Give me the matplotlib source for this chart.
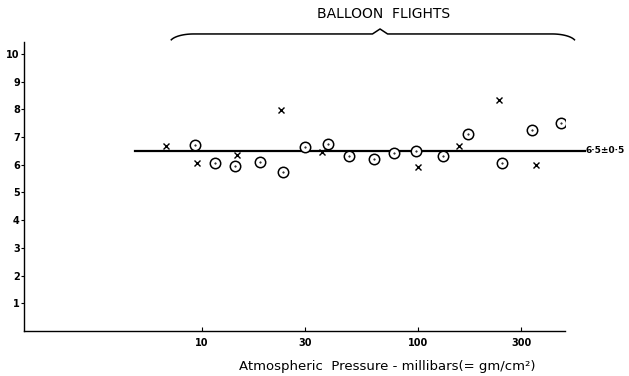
import numpy as np
import matplotlib
matplotlib.use("Agg")
import matplotlib.pyplot as plt

plt.rcParams.update({"font.family": "DejaVu Sans"})

# values (pressure in millibars, ratio on y)
circle_p = [9.3, 11.5, 14.2, 18.6, 23.7, 30.0, 38.4, 47.9, 62.8, 77.2, 98.0, 130, 170, 246, 336, 458]
circle_v = [6.70, 6.07, 5.95, 6.11, 5.75, 6.64, 6.74, 6.32, 6.19, 6.41, 6.49, 6.30, 7.10, 6.05, 7.25, 7.50]
cross_p = [6.85, 9.5, 14.6, 23.2, 35.8, 100, 155, 236, 351]
cross_v = [6.66, 6.08, 6.34, 7.97, 6.47, 5.93, 6.68, 8.32, 5.98]
mean_v = 6.5
mean_label = "6\u00b75\u00b10\u00b75"
mean_span = [4.9, 590]
brace_span = [7.1, 66.7, 538]
xticks = [10, 30, 100, 300]
yticks = list(range(1, 11))

fig = plt.figure(figsize=(6.29, 3.76), dpi=100)
ax = fig.add_axes([24/629, 45/376, 541/629, 289/376])
ax.set_xscale("log")
ax.set_xlim(1.5, 479)
ax.set_ylim(0, 10.43)

ax.plot(mean_span, [mean_v, mean_v], color="black", lw=1.6, clip_on=False, zorder=2)
ax.text(mean_span[1] * 1.01, mean_v, mean_label, fontsize=6.5, fontweight="bold",
        va="center", ha="left", clip_on=False)

ax.plot(circle_p, circle_v, "o", ms=7.5, mfc="white", mec="black", mew=1.1, zorder=3)
ax.plot(circle_p, circle_v, ".", ms=1, color="black", zorder=4)
ax.plot(cross_p, cross_v, "x", ms=3.8, mew=1.0, color="black", zorder=3)

# brace over the balloon flights, built in log10(pressure)
u_lo, u_mid, u_hi = np.log10(brace_span)
th = np.linspace(0.35, np.pi / 2, 20)
y_base, y_tip, y_peak = 10.72, 10.4, 10.9
u_left = u_lo + 0.11 * (1 - np.cos(th))
y_left = y_tip + (y_base - y_tip) * np.sin(th)
u_right = (u_hi - 0.11 * (1 - np.cos(th)))[::-1]
y_right = y_left[::-1]
ub = np.concatenate([u_left, [u_mid - 0.035, u_mid, u_mid + 0.035], u_right])
yb = np.concatenate([y_left, [y_base, y_peak, y_base], y_right])
ax.plot(10 ** ub, yb, color="black", lw=1.1, clip_on=False)
ax.text(10 ** (u_mid + 0.015), 11.45, "BALLOON  FLIGHTS", fontsize=10, ha="center",
        va="center", clip_on=False)

ax.set_xticks(xticks)
ax.set_xticklabels([str(v) for v in xticks], fontsize=7, fontweight="bold")
ax.minorticks_off()
ax.set_yticks(yticks)
ax.set_yticklabels([str(v) for v in yticks], fontsize=7, fontweight="bold")
ax.tick_params(axis="x", direction="in", length=3, width=0.8, pad=5)
ax.tick_params(axis="y", direction="out", length=2, width=0.8, pad=1)
for s in ["top", "right"]:
    ax.spines[s].set_visible(False)
for s in ["left", "bottom"]:
    ax.spines[s].set_linewidth(1.0)
ax.set_xlabel("Atmospheric  Pressure - millibars(= gm/cm\u00b2)", fontsize=9.5)
ax.xaxis.set_label_coords(363 / 541, -0.1)

fig.savefig("out.png", dpi=100)
